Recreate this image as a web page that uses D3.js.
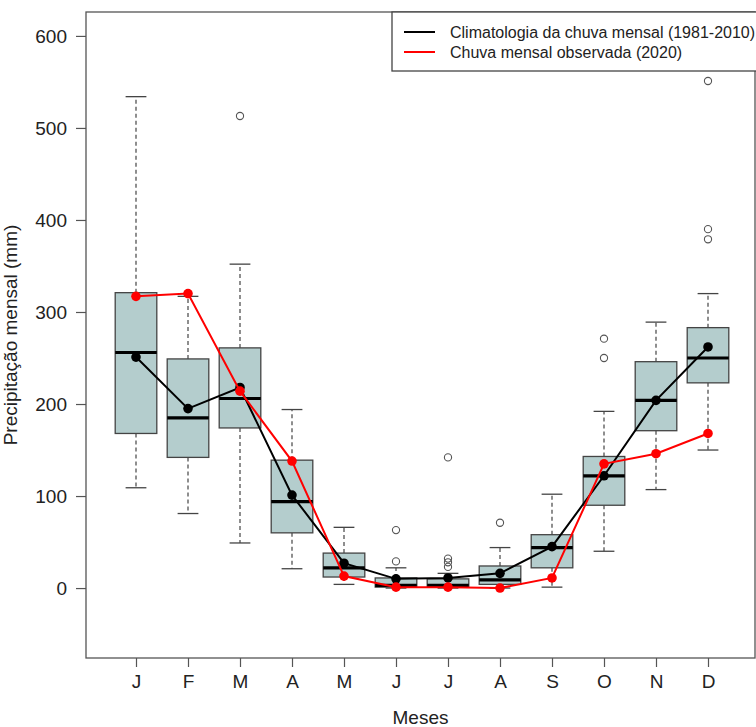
<!DOCTYPE html>
<html>
<head>
<meta charset="utf-8">
<script src="https://cdn.jsdelivr.net/npm/d3@7"></script>
<style>
  body { margin: 0; background: #fff; }
  svg { display: block; font-family: "Liberation Sans", Arial, sans-serif; }
</style>
</head>
<body>
<div id="chart"></div>
<script>
// month labels (x axis)
const months = ["J", "F", "M", "A", "M", "J", "J", "A", "S", "O", "N", "D"];
const yTicks = [0, 100, 200, 300, 400, 500, 600];

// box statistics per month, 1981-2010 (mm)
const whiskerLow  = [109, 81, 49, 21, 4, 0, 0, 0, 1, 40, 107, 150];
const q1          = [168, 142, 174, 60, 12, 1, 1, 4, 22, 90, 171, 223];
const medians     = [256, 185, 206, 94, 22, 3, 3, 9, 44, 122, 204, 250];
const q3          = [321, 249, 261, 139, 38, 11, 10, 24, 58, 143, 246, 283];
const whiskerHigh = [534, 317, 352, 194, 66, 22, 16, 44, 102, 192, 289, 320];
const outliers    = [[], [], [513], [], [], [63, 29], [142, 32, 28, 23], [71], [], [271, 250], [], [551, 390, 379]];

// lines
const climatology = [251, 195, 218, 101, 27, 10, 11, 16, 45, 122, 204, 262];
const observed2020 = [317, 320, 214, 138, 13, 1, 1, 0, 11, 135, 146, 168];

const width = 756, height = 727;
const plotL = 86, plotR = 755, plotT = 12, plotB = 658;

const svg = d3.select('#chart').append('svg')
    .attr('width', width)
    .attr('height', height);

const x = d3.scaleLinear().domain([1, 12]).range([136, 708]);
const y = d3.scaleLinear().domain([-76, 626]).range([plotB, plotT]);

const boxW = 0.8 * (x(2) - x(1));
const capW = boxW / 2;
const grey = '#444';

// frame
svg.append('rect')
    .attr('x', plotL).attr('y', plotT)
    .attr('width', plotR - plotL).attr('height', plotB - plotT)
    .attr('fill', 'none').attr('stroke', '#555').attr('stroke-width', 1.3);

// axes
const yAxis = svg.append('g')
    .attr('transform', `translate(${plotL},0)`)
    .call(d3.axisLeft(y).tickValues(yTicks).tickSize(10).tickPadding(9));
const xAxis = svg.append('g')
    .attr('transform', `translate(0,${plotB})`)
    .call(d3.axisBottom(x).tickValues(d3.range(1, 13)).tickFormat(i => months[i - 1])
        .tickSize(9).tickPadding(8));
[yAxis, xAxis].forEach(a => {
    a.select('.domain').remove();
    a.selectAll('.tick line').attr('stroke', '#555').attr('stroke-width', 1.2);
    a.selectAll('.tick text').attr('font-size', 19).attr('fill', '#222')
        .attr('font-family', '"Liberation Sans", Arial, sans-serif');
});

// axis titles
svg.append('text')
    .attr('x', (plotL + plotR) / 2).attr('y', 724)
    .attr('text-anchor', 'middle').attr('font-size', 19).attr('fill', '#222')
    .text('Meses');
svg.append('text')
    .attr('transform', `translate(17,${(plotT + plotB) / 2}) rotate(-90)`)
    .attr('text-anchor', 'middle').attr('font-size', 19).attr('fill', '#222')
    .text('Precipitação mensal (mm)');

// boxplots
const stats = months.map((m, i) => ({
    i: i + 1, lo: whiskerLow[i], q1: q1[i], med: medians[i], q3: q3[i], hi: whiskerHigh[i], out: outliers[i]
}));
const boxes = svg.append('g').selectAll('g').data(stats).join('g');

boxes.append('line') // upper whisker
    .attr('x1', d => x(d.i)).attr('x2', d => x(d.i))
    .attr('y1', d => y(d.q3)).attr('y2', d => y(d.hi))
    .attr('stroke', grey).attr('stroke-width', 1.2).attr('stroke-dasharray', '4,3');
boxes.append('line') // lower whisker
    .attr('x1', d => x(d.i)).attr('x2', d => x(d.i))
    .attr('y1', d => y(d.q1)).attr('y2', d => y(d.lo))
    .attr('stroke', grey).attr('stroke-width', 1.2).attr('stroke-dasharray', '4,3');
boxes.selectAll('line.cap').data(d => [[d.i, d.hi], [d.i, d.lo]]).join('line')
    .attr('class', 'cap')
    .attr('x1', d => x(d[0]) - capW / 2).attr('x2', d => x(d[0]) + capW / 2)
    .attr('y1', d => y(d[1])).attr('y2', d => y(d[1]))
    .attr('stroke', grey).attr('stroke-width', 1.3);
boxes.append('rect')
    .attr('x', d => x(d.i) - boxW / 2).attr('width', boxW)
    .attr('y', d => y(d.q3)).attr('height', d => y(d.q1) - y(d.q3))
    .attr('fill', '#b4cdcd').attr('stroke', grey).attr('stroke-width', 1.3);
boxes.append('line') // median
    .attr('x1', d => x(d.i) - boxW / 2).attr('x2', d => x(d.i) + boxW / 2)
    .attr('y1', d => y(d.med)).attr('y2', d => y(d.med))
    .attr('stroke', '#000').attr('stroke-width', 3.2);
boxes.selectAll('circle').data(d => d.out.map(v => [d.i, v])).join('circle')
    .attr('cx', d => x(d[0])).attr('cy', d => y(d[1])).attr('r', 3.6)
    .attr('fill', 'none').attr('stroke', '#555').attr('stroke-width', 1.1);

// lines with points
function series(values, color) {
    const g = svg.append('g');
    g.append('path')
        .datum(values)
        .attr('d', d3.line().x((d, i) => x(i + 1)).y(d => y(d)))
        .attr('fill', 'none').attr('stroke', color).attr('stroke-width', 2);
    g.selectAll('circle').data(values).join('circle')
        .attr('cx', (d, i) => x(i + 1)).attr('cy', d => y(d)).attr('r', 4.8)
        .attr('fill', color);
}
series(climatology, '#000');
series(observed2020, '#ff0000');

// legend
const leg = svg.append('g');
leg.append('rect')
    .attr('x', 392).attr('y', plotT).attr('width', 370).attr('height', 59)
    .attr('fill', '#fff').attr('stroke', grey).attr('stroke-width', 1.3);
const legItems = [
    { label: 'Climatologia da chuva mensal (1981-2010)', color: '#000', y: 32 },
    { label: 'Chuva mensal observada (2020)', color: '#ff0000', y: 52 }
];
legItems.forEach(it => {
    leg.append('line')
        .attr('x1', 404).attr('x2', 435).attr('y1', it.y).attr('y2', it.y)
        .attr('stroke', it.color).attr('stroke-width', 2);
    leg.append('text')
        .attr('x', 450).attr('y', it.y).attr('dy', '0.36em')
        .attr('font-size', 16).attr('fill', '#222')
        .text(it.label);
});
</script>
</body>
</html>
